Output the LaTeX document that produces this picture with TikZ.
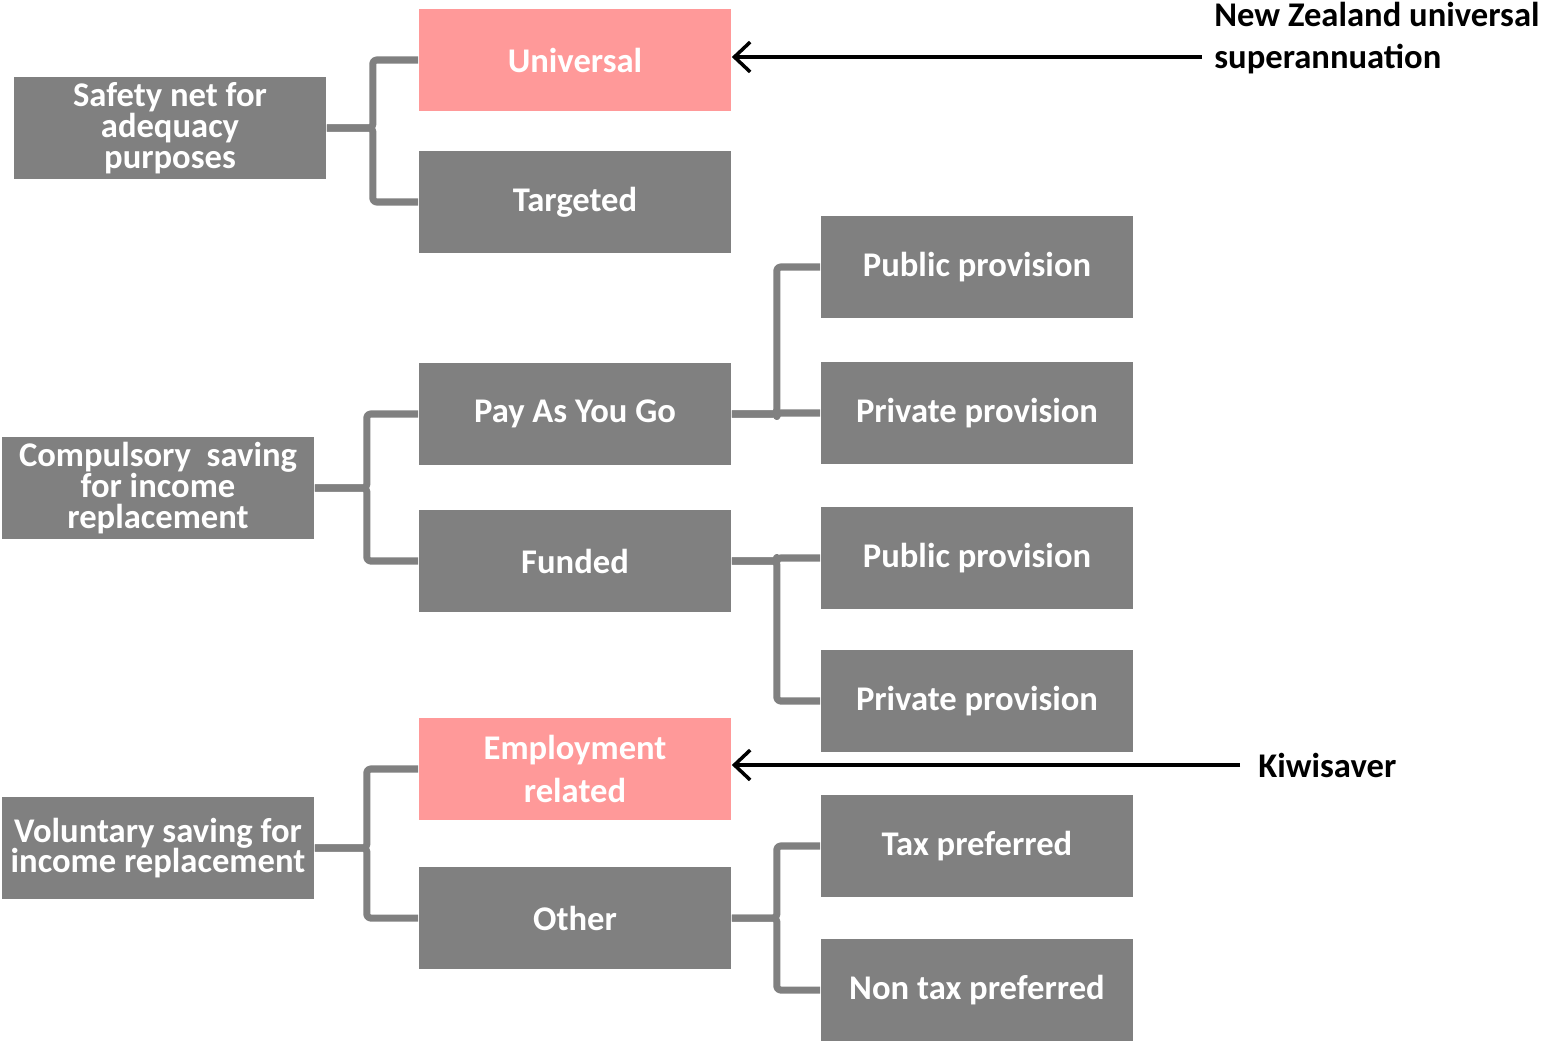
\documentclass[tikz,border=0pt]{standalone}
\usepackage{fontspec}
\setmainfont{Carlito}
\usetikzlibrary{arrows.meta}
\definecolor{boxgray}{HTML}{808080}
\definecolor{boxpink}{HTML}{FF9999}
\tikzset{
  cell/.style={fill=boxgray, text=white, font=\bfseries\fontsize{19.7}{17.5}\selectfont,
    minimum width=6.26cm, minimum height=2.04cm, inner sep=0pt, align=center},
  pinkcell/.style={cell, fill=boxpink},
  link/.style={draw=boxgray, line width=4pt, rounded corners=2pt},
  pointer/.style={draw=black, line width=2pt, -{Straight Barb[length=9pt,width=17pt,line width=2pt]}},
  note/.style={font=\bfseries\fontsize{19.7}{24}\selectfont, anchor=west, align=left, inner sep=0pt}
}
\begin{document}
\begin{tikzpicture}[x=0.02cm, y=-0.02cm, line join=round]
  \useasboundingbox (0,0) rectangle (1544,1041);
  % first level
  \node[cell] (safety) at (170,128) {Safety net for\\adequacy\\purposes};
  \node[cell] (compulsory) at (158,488) {Compulsory\ \ saving\\for income\\replacement};
  \node[cell] (voluntary) at (158,848) {Voluntary saving for\\income replacement};
  % second level
  \node[pinkcell] (universal) at (575,60) {Universal};
  \node[cell] (targeted) at (575,202) {Targeted};
  \node[cell] (payg) at (575,414) {Pay As You Go};
  \node[cell] (funded) at (575,561) {Funded};
  \node[pinkcell, font=\bfseries\fontsize{19.7}{24}\selectfont] (employment) at (575,769) {Employment\\related};
  \node[cell] (other) at (575,918) {Other};
  % third level
  \node[cell] (pubA) at (977,267) {Public provision};
  \node[cell] (privA) at (977,413) {Private provision};
  \node[cell] (pubB) at (977,558) {Public provision};
  \node[cell] (privB) at (977,701) {Private provision};
  \node[cell] (tax) at (977,846) {Tax preferred};
  \node[cell] (nontax) at (977,990) {Non tax preferred};
  % connectors
  \draw[link] (safety.east) -- ++(46,0) |- (universal.west);
  \draw[link] (safety.east) -- ++(46,0) |- (targeted.west);
  \draw[link] (compulsory.east) -- ++(52,0) |- (payg.west);
  \draw[link] (compulsory.east) -- ++(52,0) |- (funded.west);
  \draw[link] (voluntary.east) -- ++(52,0) |- (employment.west);
  \draw[link] (voluntary.east) -- ++(52,0) |- (other.west);
  \draw[link] (payg.east) -- ++(45,0) |- (pubA.west);
  \draw[link] (payg.east) -- ++(45,0) |- (privA.west);
  \draw[link] (funded.east) -- ++(45,0) |- (pubB.west);
  \draw[link] (funded.east) -- ++(45,0) |- (privB.west);
  \draw[link] (other.east) -- ++(45,0) |- (tax.west);
  \draw[link] (other.east) -- ++(45,0) |- (nontax.west);
  % notes
  \node[note] (nzlabel) at (1214,38) {New Zealand universal\\superannuation};
  \node[note] (kiwilabel) at (1258,765) {Kiwisaver};
  \coordinate (nzstart) at (1202,57);
  \coordinate (kiwistart) at (1240,765);
  \draw[pointer] (nzstart) -- (universal.east |- nzstart);
  \draw[pointer] (kiwistart) -- (employment.east |- kiwistart);
\end{tikzpicture}
\end{document}
